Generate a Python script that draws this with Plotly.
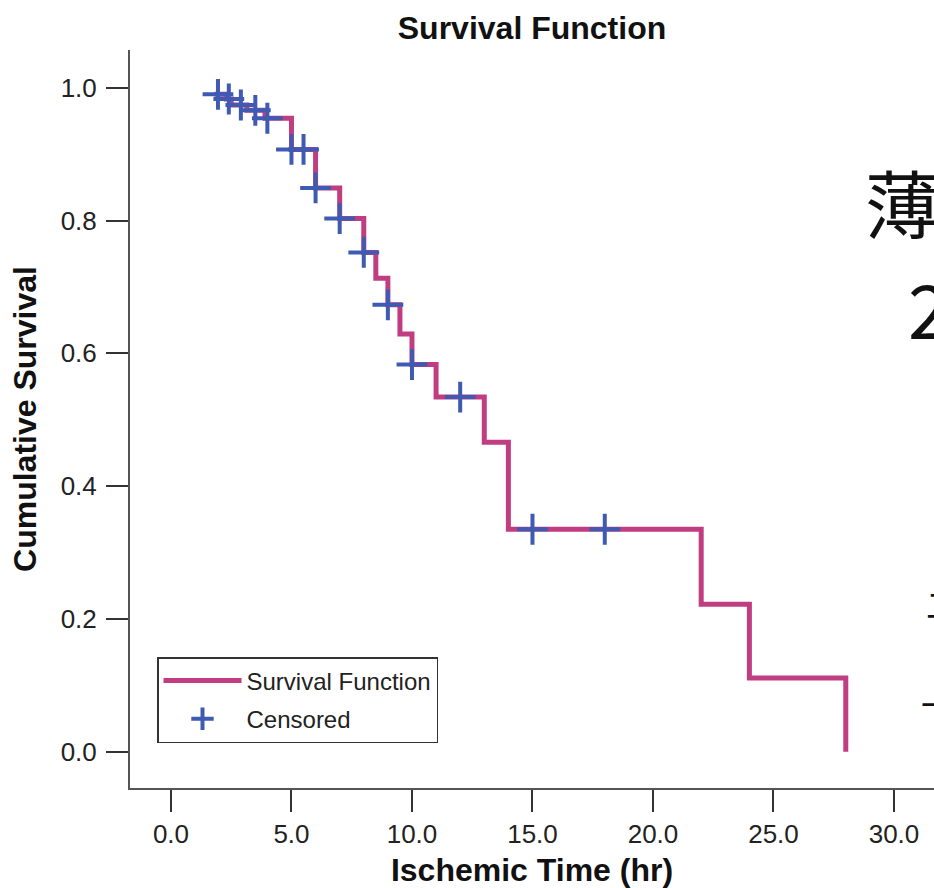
import plotly.graph_objects as go

# Kaplan-Meier step values (time in hr, cumulative survival)
event_time = [1.8, 2.3, 2.5, 3.15, 3.9, 5.0, 6.0, 7.0, 8.0, 8.5, 9.0, 9.5, 10.0, 11.0, 13.0, 14.0, 22.0, 24.0, 28.0]
event_surv = [0.990, 0.983, 0.974, 0.966, 0.954, 0.907, 0.849, 0.803, 0.752, 0.713, 0.673, 0.629, 0.583, 0.534, 0.466, 0.335, 0.222, 0.111, 0.0]

# Censored observations
cens_time = [1.95, 2.4, 2.9, 3.5, 4.0, 5.0, 5.5, 6.0, 7.0, 8.0, 9.0, 10.0, 12.0, 15.0, 18.0]
cens_surv = [0.990, 0.983, 0.974, 0.966, 0.954, 0.907, 0.907, 0.849, 0.803, 0.752, 0.673, 0.583, 0.534, 0.335, 0.335]

x_ticks = [0, 5, 10, 15, 20, 25, 30]
x_tick_labels = ["0.0", "5.0", "10.0", "15.0", "20.0", "25.0", "30.0"]
y_ticks = [0.0, 0.2, 0.4, 0.6, 0.8, 1.0]
y_tick_labels = ["0.0", "0.2", "0.4", "0.6", "0.8", "1.0"]

PINK = "#c03d82"
BLUE = "#3f5ab2"
FONT = "Liberation Sans, Arial, sans-serif"

fig = go.Figure()
fig.add_trace(go.Scatter(
    x=event_time, y=event_surv, mode="lines", name="Survival Function",
    line=dict(color=PINK, width=5, shape="hv"), legendgroup="a",
))
fig.add_trace(go.Scatter(
    x=cens_time, y=cens_surv, mode="markers", name="Censored",
    marker=dict(symbol="cross-thin", size=22, line=dict(color=BLUE, width=4)),
    legendgroup="b",
))

fig.update_layout(
    width=934, height=888,
    margin=dict(l=130, r=0, t=50, b=100, autoexpand=False),
    paper_bgcolor="white", plot_bgcolor="white",
    font=dict(family=FONT, color="#222222"),
    title=dict(text="<b>Survival Function</b>", font=dict(size=32, color="#111111"),
               x=0.5, xref="paper", xanchor="center",
               y=1 - 28 / 888, yref="container", yanchor="middle"),
    showlegend=True,
    legend=dict(
        x=27 / 804, y=45 / 738, xanchor="left", yanchor="bottom",
        bgcolor="white", bordercolor="#333333", borderwidth=1.5,
        font=dict(size=24, color="#222222", family=FONT),
        traceorder="grouped", tracegroupgap=4, itemwidth=78,
    ),
    xaxis=dict(
        range=[-1.70, 31.66], tickmode="array", tickvals=x_ticks, ticktext=x_tick_labels,
        showgrid=False, zeroline=False, showline=True, linecolor="#555555", linewidth=2,
        ticks="outside", ticklen=22, tickwidth=1.5, tickcolor="#333333",
        tickfont=dict(size=26, color="#222222"),
        title=dict(text="<b>Ischemic Time (hr)</b>", font=dict(size=32, color="#111111"), standoff=12),
        automargin=False,
    ),
    yaxis=dict(
        range=[-0.0547, 1.0568], tickmode="array", tickvals=y_ticks, ticktext=y_tick_labels,
        showgrid=False, zeroline=False, showline=True, linecolor="#555555", linewidth=2,
        ticks="outside", ticklen=22, tickwidth=1.5, tickcolor="#333333",
        tickfont=dict(size=26, color="#222222"), ticklabelstandoff=4,
        title=dict(text="<b>Cumulative Survival</b>", font=dict(size=32, color="#111111"), standoff=14),
        automargin=False,
    ),
)

# Partially visible overlaid text at the right edge (cut off in the reference too)
CJK = "Noto Sans CJK SC"
fig.add_annotation(text="薄", xref="paper", yref="paper", x=(863 - 130) / 804, y=(788 - 200) / 738,
                   xanchor="left", yanchor="middle", showarrow=False,
                   font=dict(family=CJK, size=74, color="#111111"))
fig.add_annotation(text="2", xref="paper", yref="paper", x=(906 - 130) / 804, y=(788 - 306) / 738,
                   xanchor="left", yanchor="middle", showarrow=False,
                   font=dict(family=CJK, size=74, color="#111111"))
fig.add_annotation(text="二", xref="paper", yref="paper", x=(924 - 130) / 804, y=(788 - 603) / 738,
                   xanchor="left", yanchor="middle", showarrow=False,
                   font=dict(family=CJK, size=34, color="#111111"))
fig.add_annotation(text="一", xref="paper", yref="paper", x=(919 - 130) / 804, y=(788 - 703) / 738,
                   xanchor="left", yanchor="middle", showarrow=False,
                   font=dict(family=CJK, size=34, color="#111111"))

fig.write_html("out.html")
